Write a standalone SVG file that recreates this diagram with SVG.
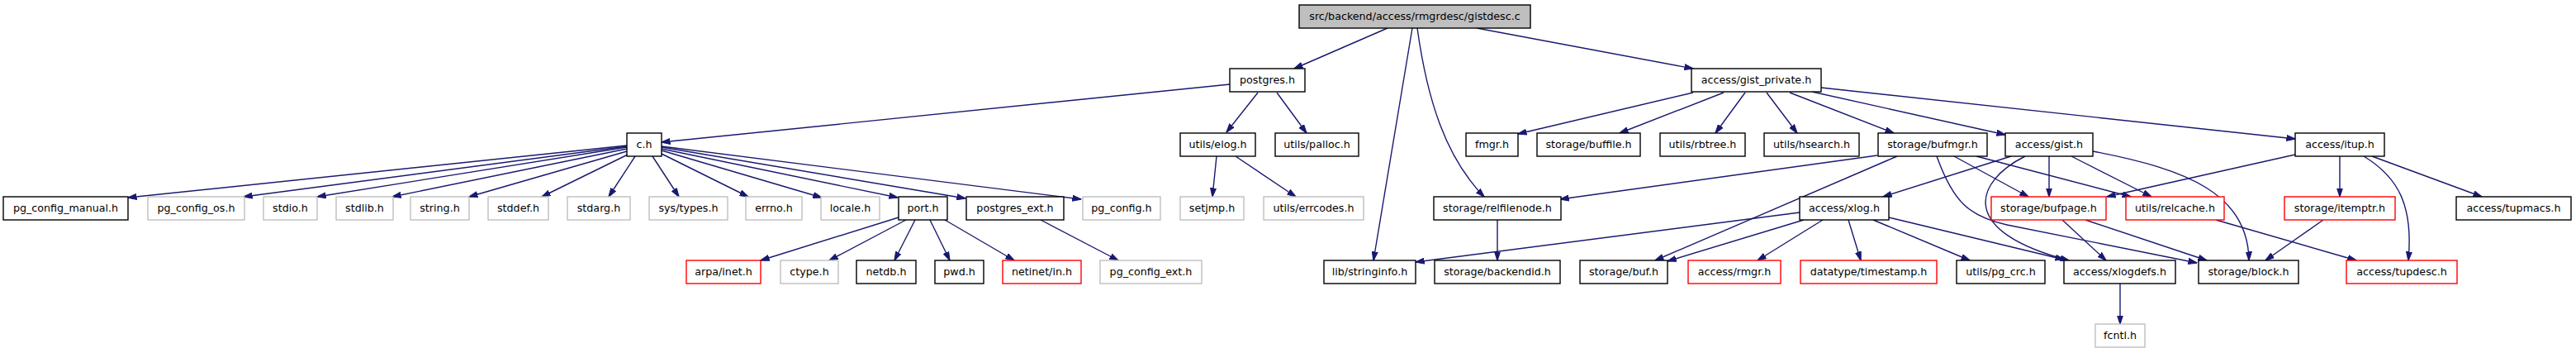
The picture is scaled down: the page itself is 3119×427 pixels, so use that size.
<svg xmlns="http://www.w3.org/2000/svg" width="3119" height="427" viewBox="0 0 3119 427">
<style>
rect{fill:#fff;stroke:#000;stroke-width:1.4}
.g rect{stroke:#bfbfbf}
.r rect{stroke:#ff0000}
.root rect{fill:#bfbfbf}
text{font-family:"DejaVu Sans",sans-serif;font-size:12.7px;text-anchor:middle;fill:#000}
#edges path{fill:none;stroke:#191970;stroke-width:1.4;marker-end:url(#a)}
</style>
<defs>
<marker id="a" markerWidth="11" markerHeight="8" refX="10.5" refY="4" orient="auto" markerUnits="userSpaceOnUse"><path d="M0,0.5 L11,4 L0,7.5 z" fill="#191970" stroke="#191970" stroke-width="1"/></marker>
</defs>
<rect x="0" y="0" width="3119" height="427" style="fill:#fff;stroke:none"/>
<g id="edges">
<path d="M1680,34 L1567,83"/>
<path d="M1788,34 L2050,83"/>
<path d="M1710,34 L1663,315"/>
<path d="M1716,34 C1728,120 1750,190 1797,238"/>
<path d="M1489,102 L801,172"/>
<path d="M1523,112 L1485,160"/>
<path d="M1546,112 L1582,161"/>
<path d="M1473,189 L1468,238"/>
<path d="M1496,189 L1569,238"/>
<path d="M759,176 L155,239"/>
<path d="M759,177 L295,238"/>
<path d="M759,178 L384,238"/>
<path d="M759,180 L475,238"/>
<path d="M759,183 L568,238"/>
<path d="M760,187 L656,238"/>
<path d="M769,189 L737,238"/>
<path d="M790,189 L822,238"/>
<path d="M801,186 L906,238"/>
<path d="M801,182 L995,239"/>
<path d="M801,180 L1087,239"/>
<path d="M801,178 L1169,240"/>
<path d="M801,177 L1309,241"/>
<path d="M1088,263 L921,315"/>
<path d="M1097,266 L1004,315"/>
<path d="M1108,266 L1083,315"/>
<path d="M1126,266 L1150,315"/>
<path d="M1144,266 L1228,315"/>
<path d="M1260,266 L1354,315"/>
<path d="M1813,266 L1813,315"/>
<path d="M2050,112 L1838,162"/>
<path d="M2087,112 L1961,161"/>
<path d="M2113,112 L2077,161"/>
<path d="M2139,112 L2176,161"/>
<path d="M2167,112 L2293,161"/>
<path d="M2194,111 L2428,163"/>
<path d="M2205,106 L2779,168"/>
<path d="M2273,188 L1889,241"/>
<path d="M2297,189 L2004,315"/>
<path d="M2345,189 C2365,245 2385,262 2430,272 L2660,318"/>
<path d="M2366,189 L2456,238"/>
<path d="M2393,189 L2580,238"/>
<path d="M2435,189 L2280,238"/>
<path d="M2452,189 C2390,220 2370,280 2505,315"/>
<path d="M2481,189 L2481,238"/>
<path d="M2508,189 L2605,238"/>
<path d="M2534,183 C2650,205 2722,235 2723,315"/>
<path d="M2779,187 L2551,238"/>
<path d="M2833,189 L2833,238"/>
<path d="M2862,189 C2905,215 2922,250 2916,315"/>
<path d="M2872,189 L3005,238"/>
<path d="M2179,257 L1714,317"/>
<path d="M2184,266 L2019,316"/>
<path d="M2207,266 L2128,315"/>
<path d="M2238,266 L2253,315"/>
<path d="M2268,266 L2385,315"/>
<path d="M2287,263 L2499,314"/>
<path d="M2497,266 L2550,315"/>
<path d="M2525,266 L2672,315"/>
<path d="M2683,266 L2853,315"/>
<path d="M2813,266 L2743,315"/>
<path d="M2567,343 L2567,392"/>
</g>
<g id="n_gistdesc" class="root"><rect x="1573" y="6" width="280" height="28"/><text x="1713" y="24">src/backend/access/rmgrdesc/gistdesc.c</text></g>
<g id="n_postgres"><rect x="1489" y="83" width="91" height="28"/><text x="1534.5" y="101">postgres.h</text></g>
<g id="n_gist_private"><rect x="2048" y="83" width="157" height="28"/><text x="2126.5" y="101">access/gist_private.h</text></g>
<g id="n_c"><rect x="759" y="161" width="42" height="28"/><text x="780" y="179">c.h</text></g>
<g id="n_elog"><rect x="1429" y="161" width="91" height="28"/><text x="1474.5" y="179">utils/elog.h</text></g>
<g id="n_palloc"><rect x="1544" y="161" width="101" height="28"/><text x="1594.5" y="179">utils/palloc.h</text></g>
<g id="n_fmgr"><rect x="1775" y="161" width="63" height="28"/><text x="1806.5" y="179">fmgr.h</text></g>
<g id="n_buffile"><rect x="1861" y="161" width="125" height="28"/><text x="1923.5" y="179">storage/buffile.h</text></g>
<g id="n_rbtree"><rect x="2010" y="161" width="103" height="28"/><text x="2061.5" y="179">utils/rbtree.h</text></g>
<g id="n_hsearch"><rect x="2136" y="161" width="115" height="28"/><text x="2193.5" y="179">utils/hsearch.h</text></g>
<g id="n_bufmgr"><rect x="2274" y="161" width="132" height="28"/><text x="2340" y="179">storage/bufmgr.h</text></g>
<g id="n_gist"><rect x="2428" y="161" width="106" height="28"/><text x="2481" y="179">access/gist.h</text></g>
<g id="n_itup"><rect x="2779" y="161" width="108" height="28"/><text x="2833" y="179">access/itup.h</text></g>
<g id="n_pg_config_manual"><rect x="4" y="238" width="151" height="28"/><text x="79.5" y="256">pg_config_manual.h</text></g>
<g id="n_pg_config_os" class="g"><rect x="179" y="238" width="117" height="28"/><text x="237.5" y="256">pg_config_os.h</text></g>
<g id="n_stdio" class="g"><rect x="319" y="238" width="65" height="28"/><text x="351.5" y="256">stdio.h</text></g>
<g id="n_stdlib" class="g"><rect x="407" y="238" width="69" height="28"/><text x="441.5" y="256">stdlib.h</text></g>
<g id="n_string" class="g"><rect x="497" y="238" width="71" height="28"/><text x="532.5" y="256">string.h</text></g>
<g id="n_stddef" class="g"><rect x="591" y="238" width="73" height="28"/><text x="627.5" y="256">stddef.h</text></g>
<g id="n_stdarg" class="g"><rect x="687" y="238" width="76" height="28"/><text x="725" y="256">stdarg.h</text></g>
<g id="n_systypes" class="g"><rect x="786" y="238" width="95" height="28"/><text x="833.5" y="256">sys/types.h</text></g>
<g id="n_errno" class="g"><rect x="903" y="238" width="68" height="28"/><text x="937" y="256">errno.h</text></g>
<g id="n_locale" class="g"><rect x="994" y="238" width="71" height="28"/><text x="1029.5" y="256">locale.h</text></g>
<g id="n_port"><rect x="1088" y="238" width="59" height="28"/><text x="1117.5" y="256">port.h</text></g>
<g id="n_postgres_ext"><rect x="1170" y="238" width="118" height="28"/><text x="1229" y="256">postgres_ext.h</text></g>
<g id="n_pg_config" class="g"><rect x="1311" y="238" width="94" height="28"/><text x="1358" y="256">pg_config.h</text></g>
<g id="n_setjmp" class="g"><rect x="1429" y="238" width="77" height="28"/><text x="1467.5" y="256">setjmp.h</text></g>
<g id="n_errcodes" class="g"><rect x="1530" y="238" width="121" height="28"/><text x="1590.5" y="256">utils/errcodes.h</text></g>
<g id="n_relfilenode"><rect x="1736" y="238" width="154" height="28"/><text x="1813" y="256">storage/relfilenode.h</text></g>
<g id="n_xlog"><rect x="2179" y="238" width="108" height="28"/><text x="2233" y="256">access/xlog.h</text></g>
<g id="n_bufpage" class="r"><rect x="2411" y="238" width="139" height="28"/><text x="2480.5" y="256">storage/bufpage.h</text></g>
<g id="n_relcache" class="r"><rect x="2574" y="238" width="119" height="28"/><text x="2633.5" y="256">utils/relcache.h</text></g>
<g id="n_itemptr" class="r"><rect x="2766" y="238" width="134" height="28"/><text x="2833" y="256">storage/itemptr.h</text></g>
<g id="n_tupmacs"><rect x="2974" y="238" width="139" height="28"/><text x="3043.5" y="256">access/tupmacs.h</text></g>
<g id="n_arpa_inet" class="r"><rect x="831" y="315" width="90" height="28"/><text x="876" y="333">arpa/inet.h</text></g>
<g id="n_ctype" class="g"><rect x="945" y="315" width="70" height="28"/><text x="980" y="333">ctype.h</text></g>
<g id="n_netdb"><rect x="1037" y="315" width="72" height="28"/><text x="1073" y="333">netdb.h</text></g>
<g id="n_pwd"><rect x="1132" y="315" width="59" height="28"/><text x="1161.5" y="333">pwd.h</text></g>
<g id="n_netinet_in" class="r"><rect x="1214" y="315" width="95" height="28"/><text x="1261.5" y="333">netinet/in.h</text></g>
<g id="n_pg_config_ext" class="g"><rect x="1332" y="315" width="123" height="28"/><text x="1393.5" y="333">pg_config_ext.h</text></g>
<g id="n_stringinfo"><rect x="1603" y="315" width="111" height="28"/><text x="1658.5" y="333">lib/stringinfo.h</text></g>
<g id="n_backendid"><rect x="1737" y="315" width="152" height="28"/><text x="1813" y="333">storage/backendid.h</text></g>
<g id="n_buf"><rect x="1913" y="315" width="106" height="28"/><text x="1966" y="333">storage/buf.h</text></g>
<g id="n_rmgr" class="r"><rect x="2044" y="315" width="112" height="28"/><text x="2100" y="333">access/rmgr.h</text></g>
<g id="n_timestamp" class="r"><rect x="2180" y="315" width="165" height="28"/><text x="2262.5" y="333">datatype/timestamp.h</text></g>
<g id="n_pg_crc"><rect x="2369" y="315" width="107" height="28"/><text x="2422.5" y="333">utils/pg_crc.h</text></g>
<g id="n_xlogdefs"><rect x="2499" y="315" width="135" height="28"/><text x="2566.5" y="333">access/xlogdefs.h</text></g>
<g id="n_block"><rect x="2662" y="315" width="121" height="28"/><text x="2722.5" y="333">storage/block.h</text></g>
<g id="n_tupdesc" class="r"><rect x="2841" y="315" width="134" height="28"/><text x="2908" y="333">access/tupdesc.h</text></g>
<g id="n_fcntl" class="g"><rect x="2537" y="392" width="60" height="28"/><text x="2567" y="410">fcntl.h</text></g>
</svg>
